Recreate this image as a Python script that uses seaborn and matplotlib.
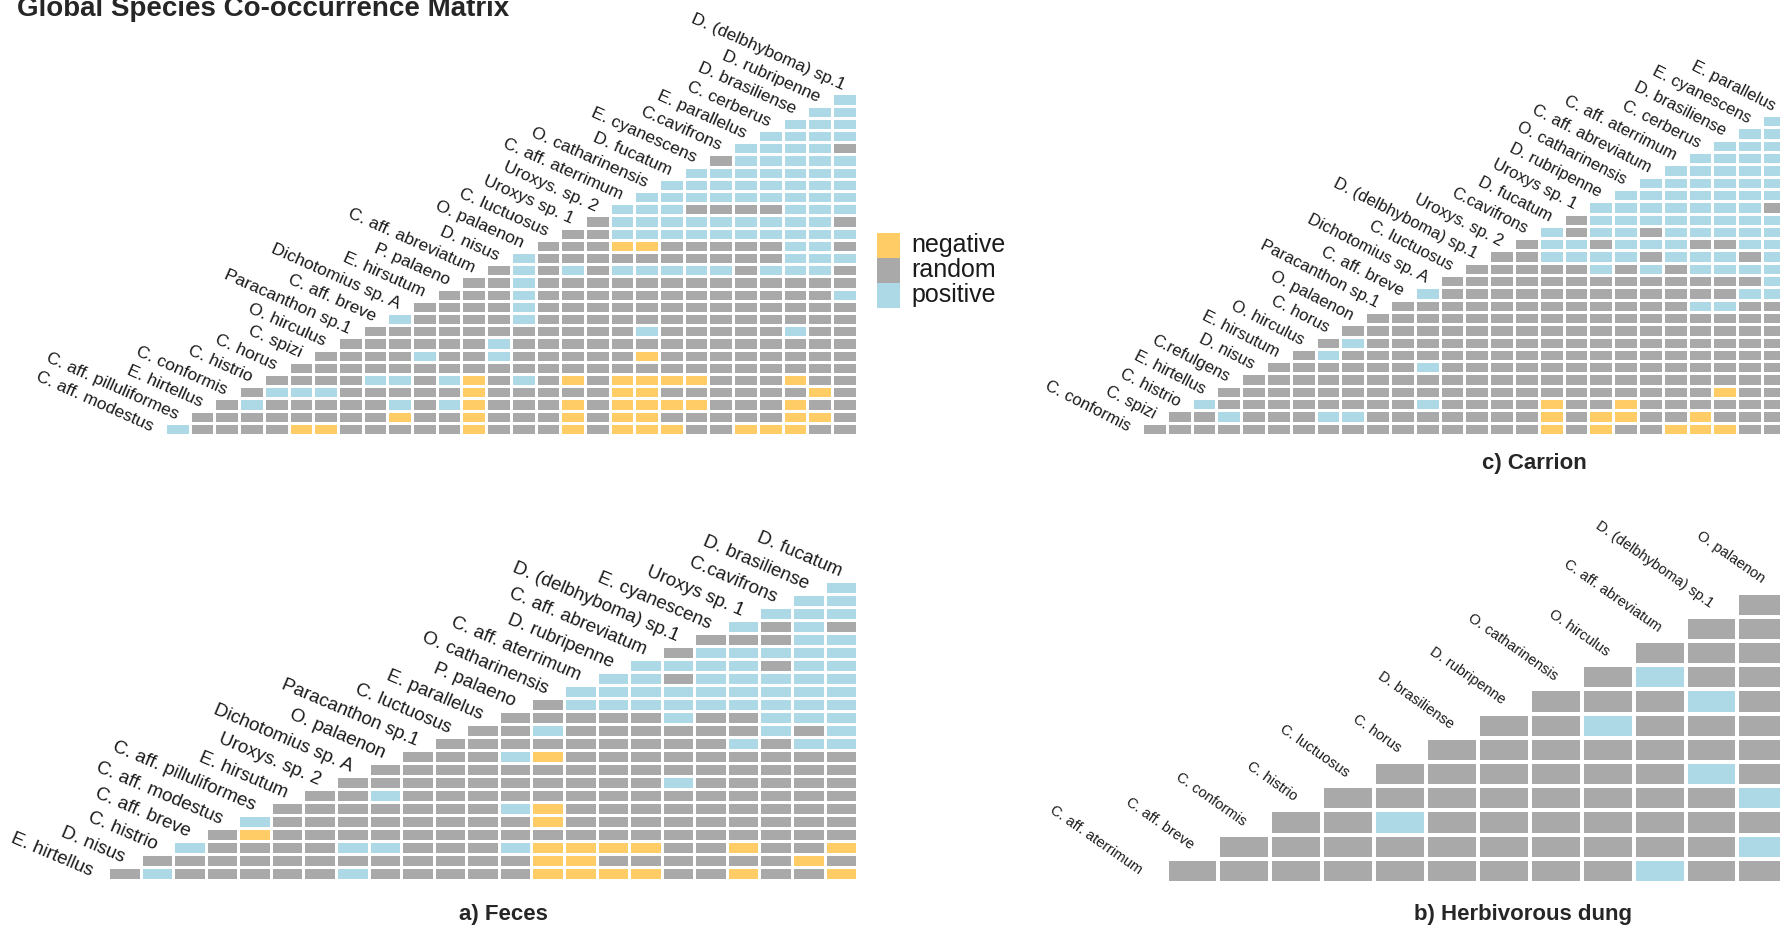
import numpy as np
import pandas as pd
import matplotlib
matplotlib.use("Agg")
import matplotlib.pyplot as plt
from matplotlib.colors import ListedColormap
from matplotlib.patches import Rectangle
import seaborn as sns

sns.set_theme(style="white")
plt.rcParams["font.family"] = ["Liberation Sans", "DejaVu Sans"]

# ---- association states -------------------------------------------------
STATES = ["negative", "random", "positive"]
STATE_COLORS = ["#FFCC66", "#A9A9A9", "#ADD8E6"]
CODE = {"n": 0, "r": 1, "p": 2}

# Each matrix column is written bottom -> top (n = negative, r = random, p = positive)
# ---- Global ----------------------------------------------------------------
global_species = [
    "C. aff. modestus", "C. aff. pilluliformes", "E. hirtellus", "C. conformis",
    "C. histrio", "C. horus", "C. spizi", "O. hirculus", "Paracanthon sp.1",
    "C. aff. breve", "Dichotomius sp. A", "E. hirsutum", "P. palaeno",
    "C. aff. abreviatum", "D. nisus", "O. palaenon", "C. luctuosus",
    "Uroxys sp. 1", "Uroxys. sp. 2", "C. aff. aterrimum", "O. catharinensis",
    "D. fucatum", "E. cyanescens", "C.cavifrons", "E. parallelus", "C. cerberus",
    "D. brasiliense", "D. rubripenne", "D. (delbhyboma) sp.1",
]
global_cells = [
    "p",
    "rr",
    "rrr",
    "rrpr",
    "rrrpr",
    "nrrprr",
    "nrrprrr",
    "rrrrrrrr",
    "rrrrprrrr",
    "rnprprrrrp",
    "rrrrrrprrrr",
    "rrprprrrrrrr",
    "nnnnnrrrrrrrr",
    "rrrrrrpprrrrrr",
    "rrrrprrrrpppppp",
    "rrrrrrrrrrrrrrrr",
    "nnnrnrrrrrrrrprrr",
    "rrrrrrrrrrrrrrrrrr",
    "nnnnnrrrrrrrrprnppp",
    "nnnnnrnrprrrrprnpppp",
    "nrnrnrrrrrrrrprrppppp",
    "rrnrnrrrrrrrrprrpprppp",
    "rrrrrrrrrrrrrprrpprpppr",
    "nrrrrrrrrrrrrrrrpprppppp",
    "nrrrrrrrrrrrrprrpprpppppp",
    "nnnrnrrrprrrrppppppppppppp",
    "rnrnrrrrrrrrrpppppppppppppp",
    "rrrrrrrrrrrprrprprppppprpppp",
]

# ---- a) Feces --------------------------------------------------------------
feces_species = [
    "E. hirtellus", "D. nisus", "C. histrio", "C. aff. breve", "C. aff. modestus",
    "C. aff. pilluliformes", "E. hirsutum", "Uroxys. sp. 2", "Dichotomius sp. A",
    "O. palaenon", "Paracanthon sp.1", "C. luctuosus", "E. parallelus",
    "P. palaeno", "O. catharinensis", "C. aff. aterrimum", "D. rubripenne",
    "C. aff. abreviatum", "D. (delbhyboma) sp.1", "E. cyanescens",
    "Uroxys sp. 1", "C.cavifrons", "D. brasiliense", "D. fucatum",
]
feces_cells = [
    "r",
    "pr",
    "rrp",
    "rrrr",
    "rrrnp",
    "rrrrrr",
    "rrrrrrr",
    "prprrrrr",
    "rrprrrprr",
    "rrrrrrrrrr",
    "rrrrrrrrrrr",
    "rrrrrrrrrrrr",
    "rrprrprrrprrr",
    "nnnrnnrrrnrprr",
    "nnnrrrrrrrrrrpp",
    "nrnrrrrrrrrrrppp",
    "nrnrrrrrrrrrrpppp",
    "rrrrrrrprrrrppprpr",
    "rrrrrrrrrrrrrpppppr",
    "nrnrrrrrrrprrppppprp",
    "rrrrrrrrrrrppppprprrp",
    "rnrrrrrrrrprpppppppppp",
    "nrnrrrrrrrppppppppprppp",
]

# ---- c) Carrion ------------------------------------------------------------
carrion_species = [
    "C. conformis", "C. spizi", "C. histrio", "E. hirtellus", "C.refulgens",
    "D. nisus", "E. hirsutum", "O. hirculus", "C. horus", "O. palaenon",
    "Paracanthon sp.1", "C. aff. breve", "Dichotomius sp. A", "C. luctuosus",
    "D. (delbhyboma) sp.1", "Uroxys. sp. 2", "C.cavifrons", "D. fucatum",
    "Uroxys sp. 1", "D. rubripenne", "O. catharinensis", "C. aff. abreviatum",
    "C. aff. aterrimum", "C. cerberus", "D. brasiliense", "E. cyanescens",
    "E. parallelus",
]
carrion_cells = [
    "r",
    "rr",
    "rrp",
    "rprr",
    "rrrrr",
    "rrrrrr",
    "rrrrrrr",
    "rprrrrpr",
    "rprrrrrpr",
    "rrrrrrrrrr",
    "rrrrrrrrrrr",
    "rrprrprrrrrp",
    "rrrrrrrrrrrrr",
    "rrrrrrrrrrrrrr",
    "rrrrrrrrrrrrrrr",
    "rrrrrrrrrrrrrrrr",
    "nnnrrrrrrrrrrrppp",
    "rrrrrrrrrrrrrrpprr",
    "nnrrrrrrrrrrrpprppp",
    "rnnrrrrrrrrrrrpppppp",
    "rrrrrrrrrrrrrprprpppp",
    "nrrrrrrrrrrrrrpppppppp",
    "nnrrrrrrrrprrpprppppppp",
    "nrrnrrrrrrprrpprpppppppp",
    "rrrrrrrrrrrprprpppppppppp",
    "rrrrrrrrrrrppppppprppppppp",
]

# ---- b) Herbivorous dung ---------------------------------------------------
herb_species = [
    "C. aff. aterrimum", "C. aff. breve", "C. conformis", "C. histrio",
    "C. luctuosus", "C. horus", "D. brasiliense", "D. rubripenne",
    "O. catharinensis", "O. hirculus", "C. aff. abreviatum",
    "D. (delbhyboma) sp.1", "O. palaenon",
]
herb_cells = [
    "r",
    "rr",
    "rrr",
    "rrrr",
    "rrprr",
    "rrrrrr",
    "rrrrrrr",
    "rrrrrrrr",
    "rrrrrrprr",
    "prrrrrrrpr",
    "rrrrprrprrr",
    "rprprrrrrrrr",
]

W, H = 1780, 930
fig = plt.figure(figsize=(W / 100, H / 100), dpi=100)
cmap = ListedColormap(STATE_COLORS)


def triangle_frame(cols):
    n = len(cols)
    m = np.full((n, n), np.nan)
    for j, col in enumerate(cols):
        assert len(col) == j + 1, (j, col)
        for r, ch in enumerate(col):
            m[n - 1 - r, j] = CODE[ch]
    return pd.DataFrame(m)


def cooccur_panel(cols, names, left, bottom, cell_w, cell_h, size, angle,
                  lift=0.65, family=None, lw=1.0):
    n = len(cols)
    ax = fig.add_axes([left / W, 1 - bottom / H, n * cell_w / W, n * cell_h / H])
    df = triangle_frame(cols)
    sns.heatmap(df, ax=ax, cmap=cmap, vmin=0, vmax=2, cbar=False,
                mask=df.isna(), linewidths=lw, linecolor="white",
                xticklabels=False, yticklabels=False)
    ax.set_axis_off()
    kw = {} if family is None else {"family": family}
    for i, name in enumerate(names):
        ax.text(i - 0.5, n - (i + lift), name, ha="right", va="center",
                rotation=angle, rotation_mode="anchor", fontsize=size,
                color="#1a1a1a", clip_on=False, **kw)
    return ax


cooccur_panel(global_cells, global_species, 165, 435, 24.7, 12.2, 12.5, -24)
cooccur_panel(feces_cells, feces_species, 108, 880, 32.57, 13.0, 13.5, -23)
cooccur_panel(carrion_cells, carrion_species, 1142, 435, 24.8, 12.3, 12, -27)
cooccur_panel(herb_cells, herb_species, 1166.5, 883, 51.9, 24.2, 10.5, -35,
              lift=0.5, family=["Liberation Sans Narrow", "Liberation Sans"], lw=1.5)

fig.text(17 / W, 1 - 16 / H, "Global Species Co-occurrence Matrix",
         fontsize=20, fontweight="bold", ha="left", va="baseline")
fig.text(503 / W, 1 - 914 / H, "a) Feces", fontsize=16, fontweight="bold",
         ha="center", va="center")
fig.text(1523 / W, 1 - 914 / H, "b) Herbivorous dung", fontsize=16,
         fontweight="bold", ha="center", va="center")
fig.text(1534 / W, 1 - 463 / H, "c) Carrion", fontsize=16, fontweight="bold",
         ha="center", va="center")

# legend: stacked colour keys with their state names
key_left, key_top, key_w, key_h = 877, 233, 23, 25
for k, (state, color) in enumerate(zip(STATES, STATE_COLORS)):
    top = key_top + k * key_h
    fig.add_artist(Rectangle((key_left / W, 1 - (top + key_h) / H), key_w / W, key_h / H,
                             transform=fig.transFigure, facecolor=color,
                             edgecolor="none"))
    fig.text(911 / W, 1 - (top + 19) / H, state, fontsize=18, color="#1a1a1a",
             ha="left", va="baseline")

fig.savefig("out.png", dpi=100, facecolor="white")
